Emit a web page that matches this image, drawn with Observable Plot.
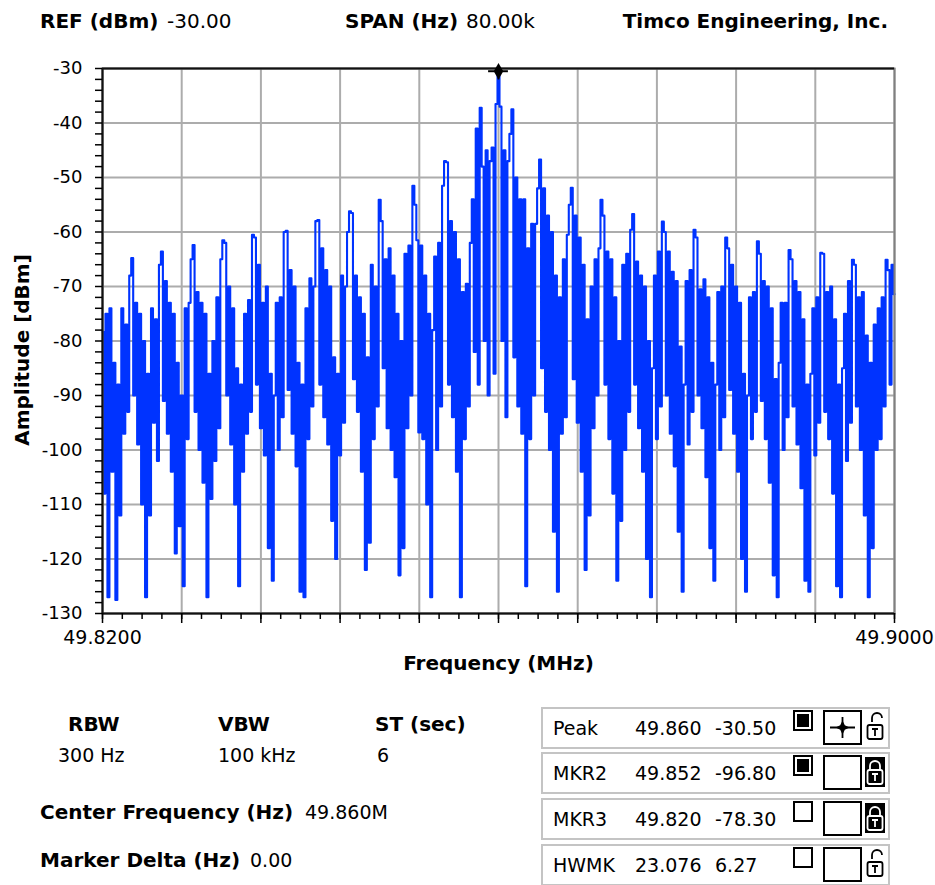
<!DOCTYPE html>
<html>
<head>
<meta charset="utf-8">
<script src="https://cdn.jsdelivr.net/npm/d3@7"></script>
<script src="https://cdn.jsdelivr.net/npm/@observablehq/plot@0.6"></script>
<style>
  body { margin: 0; background: #fff; }
  #wrap { position: relative; width: 935px; height: 885px; overflow: hidden; font-family: "DejaVu Sans", sans-serif; color: #000; background: #fff; }
  #chart { position: absolute; left: 0; top: 0; }
  .t { position: absolute; white-space: nowrap; font-size: 19px; line-height: 19px; }
  .b { font-weight: bold; font-size: 20px; line-height: 20px; }
  .h { font-size: 20px; line-height: 20px; }
  .row { position: absolute; left: 541px; width: 345px; height: 38px; border: 2px solid #c4c4c4; background: #fff; }
  .row .t { top: 10px; }
  .sq { position: absolute; left: 250px; top: 1px; width: 16px; height: 17px; border: 2px solid #000; background: #fff; }
  .sq.on::after { content: ""; position: absolute; left: 2px; top: 2px; width: 12px; height: 13px; background: #000; }
  .bx { position: absolute; left: 280px; top: 1px; width: 35px; height: 31px; border: 2px solid #000; background: #fff; }
  .lk { position: absolute; left: 322px; top: 3px; width: 20px; height: 30px; }
</style>
</head>
<body>
<div id="wrap">
  <div id="chart"></div>

  <div class="t b" style="left:40px;top:11px">REF (dBm)</div>
  <div class="t h" style="left:167px;top:11px">-30.00</div>
  <div class="t b" style="left:345px;top:11px">SPAN (Hz)</div>
  <div class="t h" style="left:466px;top:11px">80.00k</div>
  <div class="t b" style="right:47px;top:11px">Timco Engineering, Inc.</div>

  <div class="t b" style="left:68px;top:714px">RBW</div>
  <div class="t" style="left:58px;top:746px">300 Hz</div>
  <div class="t b" style="left:218px;top:714px">VBW</div>
  <div class="t" style="left:218px;top:746px">100 kHz</div>
  <div class="t b" style="left:375px;top:714px">ST (sec)</div>
  <div class="t" style="left:377px;top:746px">6</div>
  <div class="t b" style="left:40px;top:802px">Center Frequency (Hz)</div>
  <div class="t" style="left:305px;top:803px">49.860M</div>
  <div class="t b" style="left:40px;top:850px">Marker Delta (Hz)</div>
  <div class="t" style="left:250px;top:851px">0.00</div>

  <div id="table"></div>
</div>

<script>
const amp = [
  -78.3,-108,-75,-127,-74,-104,-84,-127.5,
  -88,-112,-74,-97,-77,-93,-68,-64.8,-90,-73,-99,-75,-110,-80,-127,
  -86,
  -112,-74,-95,-76,-102,-66,-63.6,-91,-69,-97,-73,-104,-75,-119,-84,-114,
  -90,-125,-74,-98,-73,-65,-62.4,-93,-71,-100,-73,-106,-75,-127,-86,-109,
  -80,-102,-72,-96,-65,-61.5,-62,-90,-70,-99,-74,-110,-85,-125,-88,-104,
  -75,-97,-72.5,-93,-60.5,-61,-88,-66,-96,-73,-101,-70,-118,-86,-124,-90,
  -73,-100,-72,-94,-60,-59.8,-89,-67,-97,-70,-103,-84,-126,-88,-127,-74,
  -98,-68.5,-92,-70,-58,-57.8,-88,-63,-94,-67,-99,-70,-113,-83,-120,-86,
  -101,-68,-95,-70,-60,-56.2,-56.5,-87,-68,-93,-72,-104,-75,-122,-83,-117,
  -66,-98,-70,-92,-54.1,-58,-85,-65,-96,-63,-100,-68,-105,-75,-123,-80,
  -118,-64,-96,-62.5,-90,-51.5,-55,-61.5,-96.8,-62.5,-98,-68,-110,-75,-127,-78,
  -64.5,-100,-62,-92,-51.5,-47,-47.2,-88,-58,-94,-60,-104,-65,-127,-71,
  -98,-69.5,-92,-62,-54,-82,-41,-88,-37.2,-48,-80,-45,-90,-47,-44.5,-86,-36.5,
  -30.5,
  -37,-80,-45,-94,-47,-42,-37.5,-83,-50,-92,-54,-97,-54,-125,-63,
  -98,-58.5,-90,-58.5,-52,-46.7,-85,-52,-93,-57,-100,-60,-115,-68,-126,-72,
  -97,-65,-94,-60.5,-55,-51.9,-87,-57,-95,-61,-104,-66,-122,-76,-112,-70,
  -96,-65,-90,-63,-54.1,-57,-88,-63.6,-98,-65,-108,-72,-124,-80,-113,-66,
  -100,-64,-93,-59.6,-56.7,-88,-65.4,-96,-68,-104,-70,-120,-80,-127,-85,-68,
  -98,-63.6,-92,-58.1,-60,-90,-63.6,-97,-67.3,-103,-69,-115,-81,-126,-88,-69,
  -99,-67,-93,-59.6,-61,-90,-70.5,-96,-68.7,-105,-72,-118,-84,-124,-88,-71,
  -100,-70,-94,-61,-63,-89,-66,-97,-70,-104,-73,-120,-86,-126,-90,-72,
  -98,-71,-93,-61.7,-64,-91,-69,-98,-70,-106,-74,-123,-87,-127,-84,-73,
  -100,-73,-94,-63.3,-65,-92,-69,-99,-71,-107,-76,-124,-88,-126,-86,-74,
  -101,-72,-95,-63.8,-64,-93,-71,-98,-70,-108,-76,-125,-88,-127,-85,-75,
  -102,-69,-95,-65.1,-66,-92,-72,-100,-71,-112,-79,-127,-84,-118,-77,-100,
  -74,-98,-72,-92,-65.1,-67,-88,-66,-71.4
];
const sweepStartMHz = 49.820;
const sweepStopMHz = 49.900;

// axes
const yMajor = [-30, -40, -50, -60, -70, -80, -90, -100, -110, -120, -130];
const xMajor = [49.820, 49.828, 49.836, 49.844, 49.852, 49.860, 49.868, 49.876, 49.884, 49.892, 49.900];
const xLabelTicks = [49.820, 49.900];
const xTickText = ["49.8200", "49.9000"];

// markers table
const mkNames = ["Peak", "MKR2", "MKR3", "HWMK"];
const mkFreq = ["49.860", "49.852", "49.820", "23.076"];
const mkAmp = ["-30.50", "-96.80", "-78.30", "6.27"];
const mkOn = [true, true, false, false];
const mkLocked = [false, true, true, false];
const peakMarker = [{f: 49.860, a: -30.50}];

// sweep grid (evenly spaced sweep points)
const trace = amp.map((a, i) => ({
  f: sweepStartMHz + i * (sweepStopMHz - sweepStartMHz) / (amp.length - 1),
  a
}));
const yMinor = d3.range(-130, -29, 2);
const xMinor = d3.range(0, 41).map(k => sweepStartMHz + k * 0.002);

const chart = Plot.plot({
  width: 935,
  height: 690,
  marginLeft: 102,
  marginRight: 41,
  marginTop: 68,
  marginBottom: 77,
  style: {fontFamily: '"DejaVu Sans", sans-serif', fontSize: "18px", background: "transparent", color: "#000", overflow: "visible"},
  x: {domain: [sweepStartMHz, sweepStopMHz]},
  y: {domain: [-130, -30]},
  marks: [
    Plot.ruleX(xMajor, {stroke: "#acacac", strokeWidth: 2}),
    Plot.ruleY(yMajor, {stroke: "#acacac", strokeWidth: 2}),
    Plot.line(trace, {x: "f", y: "a", curve: "step", stroke: "#0033ff", strokeWidth: 2.1}),
    Plot.frame({stroke: "#808080", strokeWidth: 2}),
    Plot.ruleY([-30], {stroke: "#111", strokeWidth: 2}),
    Plot.ruleY([-130], {stroke: "#111", strokeWidth: 2}),
    Plot.ruleX([sweepStartMHz], {stroke: "#111", strokeWidth: 2}),
    Plot.ruleY(peakMarker, {y: "a", x1: d => d.f - 0.001, x2: d => d.f + 0.001, stroke: "#000", strokeWidth: 2}),
    Plot.ruleX(peakMarker, {x: "f", y1: "a", y2: d => d.a - 1.6, stroke: "#000", strokeWidth: 2}),
    Plot.dot(peakMarker, {x: "f", y: "a", r: 5, fill: "#000", symbol: "diamond"}),
    Plot.axisY(yMajor, {tickSize: 0, tickPadding: 20, fontSize: 18, tickFormat: d => String(d), label: null}),
    Plot.axisY(yMinor, {tickSize: 7, tickFormat: () => "", label: null, strokeWidth: 1.5}),
    Plot.axisX(xMinor, {tickSize: 6, tickFormat: () => "", label: null, strokeWidth: 1.5}),
    Plot.axisX(xMajor, {tickSize: 10, tickFormat: () => "", label: null, strokeWidth: 1.5}),
    Plot.axisX(xLabelTicks, {tickSize: 0, tickPadding: 17, tickFormat: (d, i) => xTickText[i], fontSize: 19, label: null}),
    Plot.text(["Frequency (MHz)"], {text: d => d, frameAnchor: "bottom", dy: 56, fontWeight: "bold", fontSize: 20}),
    Plot.text(["Amplitude [dBm]"], {text: d => d, frameAnchor: "left", textAnchor: "middle", dx: -80, dy: 9, rotate: -90, fontWeight: "bold", fontSize: 20})
  ]
});
document.getElementById("chart").appendChild(chart);

// ---- marker table ----
const lockOpen = `<svg class="lk" viewBox="0 0 20 30" width="20" height="30">
  <path d="M5 12 V8 a5 5 0 0 1 10 0" fill="none" stroke="#000" stroke-width="1.8" transform="translate(2,-2)"/>
  <rect x="2.5" y="13" width="15" height="14" rx="2" fill="#fff" stroke="#000" stroke-width="1.8"/>
  <path d="M7 17 H13 M10 17 V24" stroke="#000" stroke-width="1.8"/></svg>`;
const lockShut = `<svg class="lk" viewBox="0 0 20 30" width="20" height="30">
  <rect x="0" y="0" width="20" height="30" fill="#000"/>
  <path d="M5 13 V9 a5 5 0 0 1 10 0 V13" fill="none" stroke="#fff" stroke-width="1.8"/>
  <rect x="2.5" y="13" width="15" height="14" rx="2" fill="none" stroke="#fff" stroke-width="1.8"/>
  <path d="M7 17 H13 M10 17 V24" stroke="#fff" stroke-width="1.8"/></svg>`;
const cross = `<svg viewBox="0 0 35 31" width="35" height="31" style="position:absolute;left:0;top:0">
  <path d="M5 15.5 H30 M17.5 5 V26" stroke="#000" stroke-width="1.8"/>
  <path d="M17.5 8.5 L19.8 13.2 L24.5 15.5 L19.8 17.8 L17.5 22.5 L15.2 17.8 L10.5 15.5 L15.2 13.2 Z" fill="#000"/></svg>`;
const rowTops = [707, 752, 798, 844];
const table = document.getElementById("table");
mkNames.forEach((name, i) => {
  const r = document.createElement("div");
  r.className = "row";
  r.style.top = rowTops[i] + "px";
  r.innerHTML = `<div class="t" style="left:10px">${name}</div>
    <div class="t" style="left:92px">${mkFreq[i]}</div>
    <div class="t" style="left:172px">${mkAmp[i]}</div>
    <div class="sq${mkOn[i] ? " on" : ""}"></div>
    <div class="bx">${i === 0 ? cross : ""}</div>
    ${mkLocked[i] ? lockShut : lockOpen}`;
  table.appendChild(r);
});
</script>
</body>
</html>
